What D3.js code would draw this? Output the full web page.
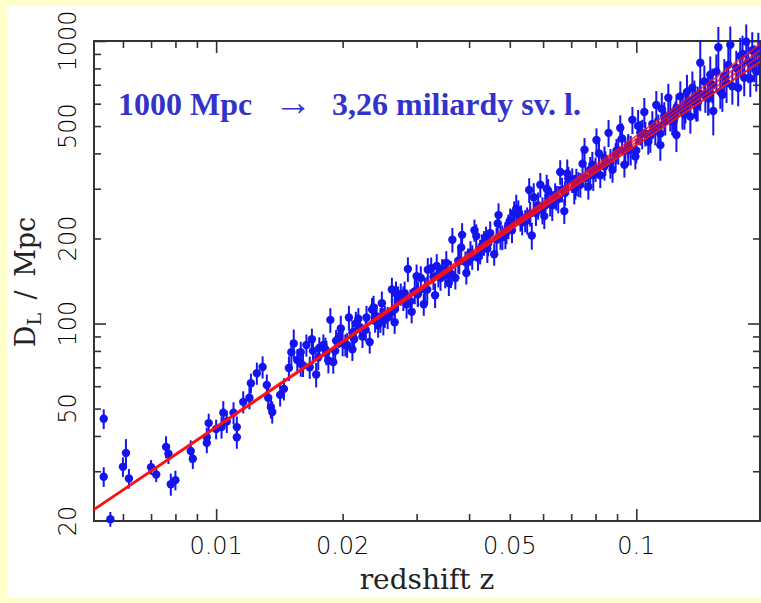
<!DOCTYPE html>
<html lang="cs">
<head>
  <meta charset="UTF-8">
  <title>Hubble diagram</title>
  <script src="https://d3js.org/d3.v7.min.js"></script>
  <style>
    body
    {
      margin: 0;
      padding: 0;
      background-color: #ffffcc;
    }

    svg
    {
      display: block;
    }
  </style>
</head>
<body>
  <svg width="761" height="603"></svg>
  <script>
    const width = 761;
    const height = 603;

    // redshift of each supernova
    const zVals = [
      0.0054, 0.0054, 0.0056, 0.0060, 0.0061, 0.0062, 0.0070, 0.0072, 0.0076, 0.0077,
      0.0078, 0.0080, 0.0087, 0.0088, 0.0095, 0.0095, 0.0096, 0.0100, 0.0103, 0.0104,
      0.0106, 0.0110, 0.0112, 0.0112, 0.0116, 0.0120, 0.0121, 0.0132, 0.0133, 0.0135,
      0.0136, 0.0142, 0.0145, 0.0125, 0.0129, 0.0149, 0.0151, 0.0153, 0.0156, 0.0159,
      0.0161, 0.0164, 0.0169, 0.0173, 0.0176, 0.0180, 0.0183, 0.0187, 0.0190, 0.0193,
      0.0196, 0.0200, 0.0203, 0.0207, 0.0211, 0.0215, 0.0218, 0.0223, 0.0228, 0.0232,
      0.0235, 0.0239, 0.0243, 0.0248, 0.0252, 0.0256, 0.0262, 0.0266, 0.0271, 0.0275,
      0.0281, 0.0286, 0.0292, 0.0297, 0.0302, 0.0307, 0.0312, 0.0319, 0.0325, 0.0332,
      0.0338, 0.0345, 0.0353, 0.0358, 0.0365, 0.0371, 0.0379, 0.0385, 0.0394, 0.0403,
      0.0412, 0.0420, 0.0429, 0.0439, 0.0449, 0.0459, 0.0470, 0.0480, 0.0491, 0.0501,
      0.0512, 0.0524, 0.0532, 0.0544, 0.0556, 0.0564, 0.0577, 0.0591, 0.0604, 0.0617,
      0.0631, 0.0645, 0.0659, 0.0674, 0.0689, 0.0704, 0.0720, 0.0736, 0.0753, 0.0769,
      0.0786, 0.0804, 0.0821, 0.0840, 0.0859, 0.0878, 0.0897, 0.0916, 0.0937, 0.0957,
      0.0979, 0.1000, 0.1022, 0.1045, 0.1068, 0.1092, 0.1116, 0.1141, 0.1166, 0.1192,
      0.1218, 0.1246, 0.1273, 0.1302, 0.1330, 0.1360, 0.1390, 0.1420, 0.1452, 0.1484,
      0.1517, 0.1551, 0.1585, 0.1620, 0.1656, 0.1693, 0.1730, 0.1768, 0.1807, 0.1847,
      0.1888, 0.1930, 0.0159, 0.0167, 0.0182, 0.0205, 0.0220, 0.0246, 0.0262, 0.0290,
      0.0314, 0.0342, 0.0356, 0.0392, 0.0425, 0.0444, 0.0475, 0.0506, 0.0530, 0.0559,
      0.0607, 0.0641, 0.0677, 0.0716, 0.0757, 0.0800, 0.0844, 0.0893, 0.0942, 0.0995,
      0.1051, 0.1110, 0.1172, 0.1239, 0.1309, 0.1383, 0.1460, 0.1525, 0.1603, 0.1748,
      0.1868, 0.1952, 0.1568, 0.1674, 0.1827, 0.1420, 0.1345, 0.1246, 0.1141, 0.0175,
      0.0192, 0.0211, 0.0227, 0.0241, 0.0266, 0.0279, 0.0302, 0.0329, 0.0351, 0.0377,
      0.0407, 0.0434, 0.0465, 0.0496, 0.0535, 0.0584, 0.0624, 0.0666, 0.0728, 0.0777,
      0.0840, 0.0906, 0.0957, 0.1033, 0.1128, 0.1205, 0.1288, 0.1375, 0.1484, 0.0170,
      0.0185, 0.0198, 0.0213, 0.0237, 0.0250, 0.0268, 0.0284, 0.0300, 0.0318, 0.0335,
      0.0362, 0.0383, 0.0398, 0.0416, 0.0442, 0.0468, 0.0488, 0.0518, 0.0550, 0.0570,
      0.0598, 0.0612, 0.0652, 0.0685, 0.0712, 0.0745, 0.0790, 0.0815, 0.0868, 0.0925,
      0.0970, 0.1010, 0.1080, 0.1150, 0.1230, 0.1320, 0.1400, 0.1500, 0.1640, 0.1790,
      0.1910
    ];

    // luminosity distance in Mpc
    const dVals = [
      46.0, 28.7, 20.3, 31.1, 34.8, 28.3, 31.0, 29.2, 36.6, 34.6,
      27.0, 27.9, 35.4, 33.2, 37.8, 39.6, 44.4, 42.3, 43.0, 48.3,
      45.0, 48.3, 43.0, 39.6, 52.8, 54.6, 61.5, 60.6, 54.6, 50.6,
      48.6, 55.9, 58.7, 66.7, 70.2, 69.6, 79.1, 85.0, 74.3, 79.1,
      71.0, 83.9, 88, 66, 82, 84, 79, 103, 73, 87,
      90, 85, 84, 105, 81, 100, 104, 90, 105, 86,
      112, 102, 99, 118, 106, 105, 132, 101, 123, 127,
      128, 156, 110, 130, 127, 145, 117, 155, 157, 126,
      149, 155, 164, 139, 198, 145, 166, 206, 151, 178,
      214, 171, 188, 202, 209, 176, 242, 202, 212, 232,
      246, 248, 238, 231, 297, 205, 246, 310, 240, 295,
      262, 279, 344, 250, 326, 322, 318, 310, 412, 305,
      365, 446, 335, 385, 473, 350, 409, 492, 365, 426,
      526, 410, 474, 561, 440, 508, 594, 470, 542, 630,
      521, 578, 637, 551, 612, 684, 588, 649, 719, 626,
      700, 779, 661, 750, 823, 692, 803, 884, 741, 846,
      926, 779, 72, 70, 81, 84, 97, 103, 110, 120,
      132, 145, 150, 165, 180, 192, 203, 214, 235, 245,
      262, 285, 290, 305, 328, 352, 370, 395, 410, 390,
      470, 480, 520, 545, 580, 600, 640, 565, 645, 683,
      737, 930, 950, 970, 995, 838, 540, 465, 428, 76,
      80, 93, 95, 106, 112, 123, 128, 146, 148, 167,
      172, 193, 198, 221, 228, 262, 266, 298, 312, 350,
      360, 410, 412, 470, 490, 550, 565, 630, 650, 80,
      74, 96, 88, 114, 102, 128, 117, 147, 132, 160,
      150, 186, 166, 204, 184, 226, 206, 255, 232, 280,
      252, 300, 276, 340, 300, 368, 335, 400, 370, 452,
      412, 500, 462, 575, 528, 660, 605, 760, 710, 900,
      840
    ];

    // distance error in percent
    const errPct = [
      8, 8, 6, 8, 12, 8, 6, 6, 9, 8,
      9, 8, 9, 8, 8, 8, 8, 8, 9, 10,
      9, 9, 9, 9, 9, 9, 8, 9, 9, 9,
      9, 9, 9, 9, 9, 10, 10, 12, 9, 9,
      9, 9, 9, 10, 9, 9, 10, 10, 9, 9,
      9, 10, 9, 10, 9, 10, 9, 9, 10, 9,
      10, 9, 10, 10, 9, 9, 10, 9, 10, 9,
      10, 10, 9, 10, 10, 10, 9, 10, 9, 10,
      10, 9, 10, 10, 10, 9, 10, 10, 9, 10,
      9, 10, 10, 9, 10, 9, 10, 10, 10, 10,
      10, 10, 10, 9, 10, 11, 10, 10, 10, 10,
      12, 10, 10, 10, 10, 10, 11, 10, 10, 10,
      11, 10, 10, 10, 11, 10, 10, 11, 10, 10,
      11, 10, 10, 12, 10, 11, 12, 10, 12, 12,
      11, 12, 13, 12, 12, 14, 12, 13, 14, 13,
      14, 15, 13, 15, 16, 14, 15, 16, 14, 16,
      16, 15, 10, 9, 10, 10, 9, 10, 10, 10,
      10, 10, 10, 9, 10, 10, 10, 10, 10, 10,
      10, 10, 10, 10, 10, 10, 10, 10, 10, 10,
      10, 11, 11, 12, 12, 12, 13, 18, 13, 14,
      14, 15, 18, 16, 15, 20, 13, 13, 12, 10,
      9, 10, 9, 10, 10, 10, 10, 10, 10, 10,
      10, 10, 10, 10, 10, 11, 10, 10, 10, 11,
      11, 11, 12, 12, 12, 13, 14, 15, 16, 10,
      10, 11, 10, 10, 11, 10, 11, 10, 11, 10,
      11, 10, 11, 10, 11, 10, 11, 12, 11, 12,
      11, 12, 11, 12, 12, 13, 12, 13, 12, 13,
      12, 14, 13, 14, 13, 15, 14, 16, 15, 16,
      15
    ];

    // model curves
    const zFit = [0.005, 0.01, 0.02, 0.05, 0.1, 0.15, 0.2];
    const fitCurves = [
      [21.4, 42.8, 85.7, 214, 428, 642, 857],
      [21.4, 42.9, 86.1, 216.8, 439, 666, 900],
      [21.5, 43.0, 86.5, 219.7, 450, 690, 943],
      [21.5, 43.3, 87.0, 222.6, 461, 717, 990]
    ];

    const xMajor = [0.01, 0.1];
    const xMinor = [0.006, 0.007, 0.008, 0.009, 0.02, 0.03, 0.04, 0.05, 0.06, 0.07, 0.08, 0.09];
    const xLabels = [0.01, 0.02, 0.05, 0.1];
    const yMajor = [100, 1000];
    const yMinor = [30, 40, 50, 60, 70, 80, 90, 200, 300, 400, 500, 600, 700, 800, 900];
    const yLabels = [20, 50, 100, 200, 500, 1000];

    const plot = { left: 94, right: 760, top: 41, bottom: 521 };

    const svg = d3.select("svg");

    // yellow page with white panel
    svg.append("rect")
      .attr("width", width)
      .attr("height", height)
      .attr("fill", "#ffffcc");
    svg.append("rect")
      .attr("x", 7)
      .attr("y", 6)
      .attr("width", width - 7)
      .attr("height", 591)
      .attr("fill", "#ffffff");

    const x = d3.scaleLog()
      .domain([0.00512, 0.197])
      .range([plot.left, plot.right]);

    const y = d3.scaleLog()
      .domain([20, 1000])
      .range([plot.bottom, plot.top]);

    svg.append("clipPath")
      .attr("id", "clip")
      .append("rect")
      .attr("x", plot.left)
      .attr("y", plot.top)
      .attr("width", plot.right - plot.left)
      .attr("height", plot.bottom - plot.top);

    // ticks on all four sides, pointing inward
    function ticks(axisFn, scale, values, size, pos)
    {
      const g = svg.append("g")
        .attr("transform", pos)
        .call(axisFn(scale).tickValues(values).tickSize(size).tickFormat(""));
      g.select(".domain").remove();
      g.selectAll("line").attr("stroke", "#333").attr("stroke-width", 1.6);
    }

    ticks(d3.axisBottom, x, xMajor, -12, `translate(0,${plot.bottom})`);
    ticks(d3.axisBottom, x, xMinor, -7, `translate(0,${plot.bottom})`);
    ticks(d3.axisTop, x, xMajor, -12, `translate(0,${plot.top})`);
    ticks(d3.axisTop, x, xMinor, -7, `translate(0,${plot.top})`);
    ticks(d3.axisLeft, y, yMajor, -12, `translate(${plot.left},0)`);
    ticks(d3.axisLeft, y, yMinor, -7, `translate(${plot.left},0)`);
    ticks(d3.axisRight, y, yMajor, -12, `translate(${plot.right},0)`);
    ticks(d3.axisRight, y, yMinor, -7, `translate(${plot.right},0)`);

    svg.append("rect")
      .attr("x", plot.left)
      .attr("y", plot.top)
      .attr("width", plot.right - plot.left)
      .attr("height", plot.bottom - plot.top)
      .attr("fill", "none")
      .attr("stroke", "#333")
      .attr("stroke-width", 2);

    // tick labels
    svg.append("g")
      .selectAll("text")
      .data(xLabels)
      .join("text")
      .attr("x", d => x(d))
      .attr("y", 554)
      .attr("text-anchor", "middle")
      .style("font", "300 24px 'DejaVu Sans'")
      .attr("fill", "#000")
      .text(d => d);

    svg.append("g")
      .selectAll("text")
      .data(yLabels)
      .join("text")
      .attr("transform", d => `translate(76,${y(d)}) rotate(-90)`)
      .attr("text-anchor", "middle")
      .style("font", "300 24px 'DejaVu Sans'")
      .attr("fill", "#000")
      .text(d => d);

    // axis titles
    svg.append("text")
      .attr("x", 427)
      .attr("y", 589)
      .attr("text-anchor", "middle")
      .style("font", "28px 'DejaVu Serif'")
      .attr("fill", "#222")
      .text("redshift z");

    const yTitle = svg.append("text")
      .attr("transform", "translate(35,282) rotate(-90)")
      .attr("text-anchor", "middle")
      .style("font", "27px 'DejaVu Serif'")
      .attr("fill", "#222");
    yTitle.append("tspan").text("D");
    yTitle.append("tspan").attr("dy", 6).style("font-size", "19px").text("L");
    yTitle.append("tspan").attr("dy", -6).text("\u2002/\u2002Mpc");

    // data points with error bars
    const points = zVals.map((z, i) => ({ z: z, d: dVals[i], e: errPct[i] / 100 }));

    const marks = svg.append("g");
    marks.selectAll("line")
      .data(points)
      .join("line")
      .attr("x1", d => x(d.z))
      .attr("x2", d => x(d.z))
      .attr("y1", d => y(d.d * (1 + d.e)))
      .attr("y2", d => y(d.d * (1 - d.e)))
      .attr("stroke", "#1414f0")
      .attr("stroke-width", 2);
    marks.selectAll("circle")
      .data(points)
      .join("circle")
      .attr("cx", d => x(d.z))
      .attr("cy", d => y(d.d))
      .attr("r", 4.2)
      .attr("fill", "#1414f0");

    // fitted curves
    const line = d3.line()
      .x(d => x(d[0]))
      .y(d => y(d[1]))
      .curve(d3.curveMonotoneX);

    svg.append("g")
      .attr("clip-path", "url(#clip)")
      .selectAll("path")
      .data(fitCurves)
      .join("path")
      .attr("d", c => line(zFit.map((z, i) => [z, c[i]])))
      .attr("fill", "none")
      .attr("stroke", "#ff1010")
      .attr("stroke-opacity", (c, i) => i === 0 ? 1 : 0.75)
      .attr("stroke-width", 2);

    // annotation
    const note = svg.append("text")
      .attr("y", 115)
      .style("font", "bold 32px 'Liberation Serif'")
      .attr("fill", "#3333cc");
    note.append("tspan").attr("x", 118).text("1000 Mpc");
    note.append("tspan").attr("x", 274).style("font-weight", "normal").style("font-size", "38px").text("→");
    note.append("tspan").attr("x", 332).text("3,26 miliardy sv. l.");
  </script>
</body>
</html>
